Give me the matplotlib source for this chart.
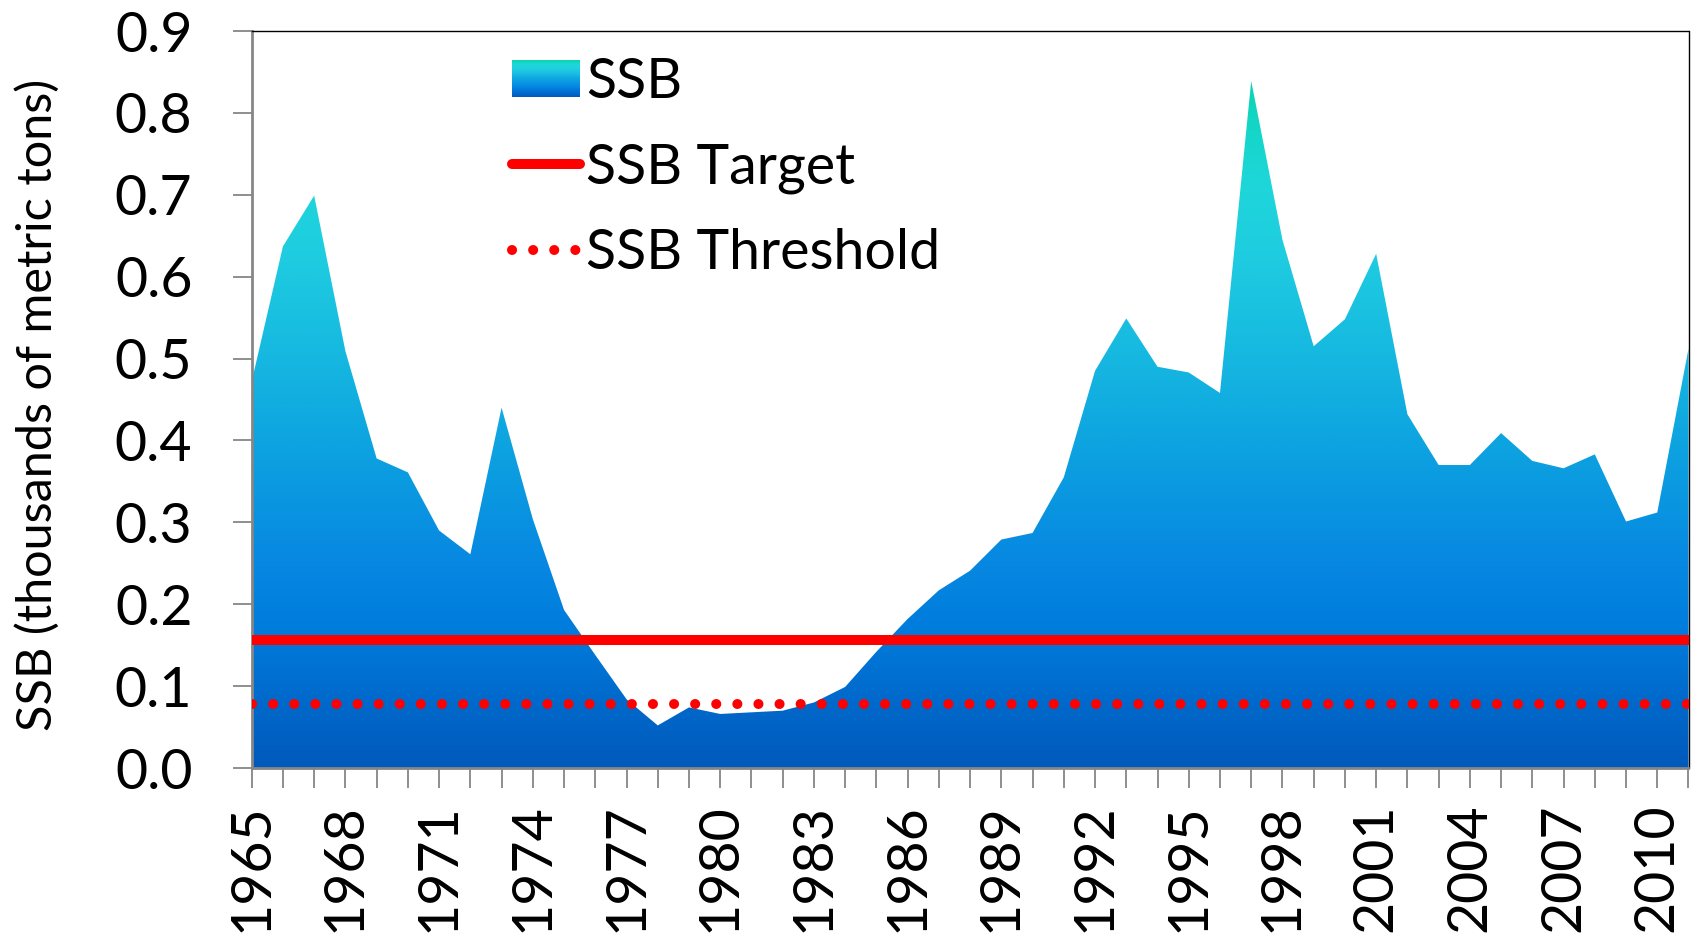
import numpy as np
import matplotlib
matplotlib.use("Agg")
import matplotlib.pyplot as plt
from matplotlib.colors import LinearSegmentedColormap
from matplotlib.legend_handler import HandlerBase
from matplotlib.patches import Rectangle, Patch
from matplotlib.lines import Line2D

plt.rcParams['font.family'] = ['Lato', 'DejaVu Sans']

# ---- data ----
years = list(range(1965, 2012))
ssb = [0.472, 0.637, 0.699, 0.509, 0.378, 0.361, 0.290, 0.261, 0.440, 0.304,
       0.193, 0.138, 0.084, 0.052, 0.074, 0.066, 0.068, 0.070, 0.080, 0.099,
       0.142, 0.182, 0.217, 0.241, 0.279, 0.287, 0.355, 0.485, 0.549, 0.490,
       0.483, 0.458, 0.839, 0.645, 0.515, 0.548, 0.628, 0.432, 0.370, 0.370,
       0.409, 0.375, 0.366, 0.383, 0.301, 0.312, 0.512]
ssb_target = 0.156
ssb_threshold = 0.078
xtick_years = list(range(1965, 2011, 3))
yticks = [0.0, 0.1, 0.2, 0.3, 0.4, 0.5, 0.6, 0.7, 0.8, 0.9]
labels = ["SSB", "SSB Target", "SSB Threshold"]
ylabel = "SSB (thousands of metric tons)"

# ---- style ----
cmap = LinearSegmentedColormap.from_list("ssb", [
    (0.00, "#005ABB"), (0.10, "#006ACC"), (0.20, "#007CDC"), (0.30, "#0788E2"),
    (0.45, "#0CA0E0"), (0.60, "#16B8E0"), (0.75, "#1FCDE0"), (0.85, "#1ED6DA"),
    (0.93, "#14D6C8"), (1.00, "#0CD4B4")])
RED = "#FF0000"
GRAY = "#868686"
FS = 40

fig = plt.figure(figsize=(16.92, 9.38), dpi=100)
ax = fig.add_axes([251.7 / 1692, 1 - 768 / 938, (1688.5 - 251.7) / 1692, (768 - 31) / 938])

x = np.array(years, dtype=float)
y = np.array(ssb)
ymax = y.max()

poly = ax.fill_between(x, 0, y, facecolor="none", edgecolor="none")
grad = np.linspace(0, 1, 256).reshape(-1, 1)
im = ax.imshow(grad, cmap=cmap, origin="lower", aspect="auto",
               extent=[x[0], x[-1], 0, ymax], zorder=1, interpolation="bilinear")
im.set_clip_path(poly.get_paths()[0], transform=ax.transData)

lw = 7.2
ax.axhline(ssb_threshold, color=RED, lw=lw, linestyle=(0, (0.01, 2.1)),
           dash_capstyle="round", zorder=3)
ax.axhline(ssb_target, color=RED, lw=lw, solid_capstyle="butt", zorder=4)

ax.set_xlim(x[0], x[-1])
ax.set_ylim(0, 0.9)

ax.set_yticks(yticks)
ax.set_yticklabels([f"{v:.1f}" for v in yticks])
ax.set_xticks(years)
ax.set_xticklabels([str(yr) if yr in xtick_years else "" for yr in years], rotation=90)

ax.tick_params(axis="y", length=13.7, width=1.3, color=GRAY, pad=29, labelsize=FS)
ax.tick_params(axis="x", length=14.5, width=1.3, color=GRAY, pad=11, labelsize=FS)
for s in ["left", "bottom"]:
    ax.spines[s].set_color(GRAY)
    ax.spines[s].set_linewidth(2.0)
for s in ["top", "right"]:
    ax.spines[s].set_color("black")
    ax.spines[s].set_linewidth(1.0)

fig.text(37 / 1692, 1 - 405 / 938, ylabel, rotation=90, ha="center", va="center",
         fontsize=35)


class GradHandler(HandlerBase):
    def create_artists(self, legend, orig_handle, xdescent, ydescent, width,
                       height, fontsize, trans):
        n = 40
        arts = []
        for i in range(n):
            r = Rectangle((-xdescent, -ydescent + i * height / n), width,
                          height / n * 1.08, facecolor=cmap((i + 0.5) / n),
                          edgecolor="none", transform=trans)
            arts.append(r)
        return arts


h_ssb = Patch(facecolor="#0FA0E0")
h_tgt = Line2D([], [], color=RED, lw=lw, solid_capstyle="round")
h_thr = Line2D([], [], color=RED, lw=lw, linestyle=(0, (0.01, 2.1)),
               dash_capstyle="round")
leg = ax.legend([h_ssb, h_tgt, h_thr], labels, handler_map={Patch: GradHandler()},
                loc="upper left", bbox_to_anchor=(0.1812, 0.965), frameon=False,
                fontsize=FS, handlelength=1.22, handleheight=0.65,
                handletextpad=0.12, labelspacing=0.62, borderpad=0,
                borderaxespad=0)

fig.savefig("out.png", dpi=100)
